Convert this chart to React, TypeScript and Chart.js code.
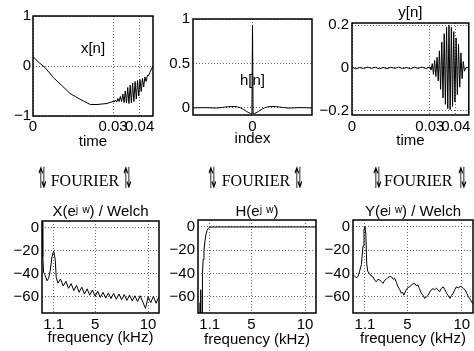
import React, { useEffect, useRef } from "react";
import { Chart, registerables } from "chart.js";
Chart.register(...registerables);

const W = 474;
const H = 351;
const FONT = "'Liberation Sans', Arial, Helvetica, sans-serif";

// ---- x[n] (time signal) ----
const slowTime = [0, 0.002, 0.0045, 0.0076, 0.0108, 0.0139, 0.0158, 0.0189, 0.0215, 0.024, 0.0277];
const slowVal = [0.19, 0.08, -0.03, -0.23, -0.39, -0.55, -0.61, -0.7, -0.77, -0.77, -0.75];
const burstTime = [0.03, 0.03046, 0.03092, 0.03138, 0.03184, 0.0323, 0.03276, 0.03322, 0.03368, 0.03414, 0.0346, 0.03506, 0.03552, 0.03598, 0.03644, 0.0369, 0.03736, 0.03782, 0.03828, 0.03874, 0.0392, 0.03966, 0.04012, 0.04058, 0.04104, 0.0415, 0.04196, 0.04242, 0.04288, 0.04334, 0.0438];
const xBurstVal = [-0.71, -0.72, -0.68, -0.72, -0.65, -0.71, -0.61, -0.71, -0.56, -0.73, -0.5, -0.74, -0.43, -0.75, -0.38, -0.74, -0.34, -0.71, -0.31, -0.66, -0.29, -0.6, -0.27, -0.51, -0.25, -0.42, -0.22, -0.31, -0.19, -0.19, -0.13];
const endTime = [0.045];
const xEndVal = [0.0];

// ---- y[n] (filtered signal) ----
const noiseTime = [0, 0.0015, 0.003, 0.0045, 0.006, 0.0075, 0.009, 0.0105, 0.012, 0.0135, 0.015, 0.0165, 0.018, 0.0195, 0.021, 0.0225, 0.024, 0.0255, 0.027, 0.0285];
const noiseVal = [0.003, -0.004, 0.002, -0.003, 0.004, -0.002, 0.003, -0.004, 0.002, -0.003, 0.003, -0.002, 0.004, -0.003, 0.002, -0.004, 0.003, -0.002, 0.004, -0.003];
const yBurstVal = [0.005, -0.01, 0.02, -0.03, 0.035, -0.04, 0.05, -0.06, 0.08, -0.1, 0.12, -0.14, 0.16, -0.17, 0.19, -0.19, 0.2, -0.195, 0.19, -0.18, 0.17, -0.16, 0.14, -0.125, 0.11, -0.09, 0.07, -0.05, 0.03, -0.015, 0.0];
const yEndVal = [0.002];

// ---- h[n] (impulse response) ----
const hIndex = [-100, -80, -60, -50, -40, -30, -25, -20, -15, -10, -6, -3, -1, 0, 1, 3, 6, 10, 15, 20, 25, 30, 40, 50, 60, 80, 100];
const hVal = [0.0, 0.003, -0.002, 0.006, 0.014, 0.016, 0.011, 0.0, -0.018, -0.04, -0.055, -0.064, -0.067, 0.93, -0.067, -0.064, -0.055, -0.04, -0.018, 0.0, 0.011, 0.016, 0.014, 0.006, -0.002, 0.003, 0.0];

// ---- X(e^jw) Welch spectrum (dB vs kHz) ----
const XFreq = [0, 0.06, 0.09, 0.15, 0.31, 0.47, 0.62, 0.78, 0.94, 1.1, 1.25, 1.34, 1.5, 1.75, 2.0, 2.25, 2.5, 2.75, 3.0, 3.25, 3.5, 3.75, 4.0, 4.25, 4.5, 4.75, 5.0, 5.25, 5.5, 5.75, 6.0, 6.25, 6.5, 6.75, 7.0, 7.25, 7.5, 7.75, 8.0, 8.25, 8.5, 8.75, 9.0, 9.25, 9.5, 9.75, 10.0, 10.25, 10.5, 10.75, 11.0];
const XVal = [5, -8, -25, -38.6, -41.5, -46, -44, -37, -25, -20, -28, -43, -48, -44.5, -50.5, -46.5, -52.5, -48.5, -54.5, -50, -56, -51.5, -57.5, -53, -58.5, -54, -59.5, -55, -60.5, -56, -61, -56.5, -61.5, -57, -62, -57.5, -62.5, -58, -63, -58.5, -63.5, -59, -64, -59, -64.5, -70, -60, -65, -59.5, -65.5, -60];

// ---- H(e^jw) filter response ----
const HFreq = [0, 0.15, 0.2, 0.24, 0.28, 0.38, 0.4, 0.43, 0.48, 0.56, 0.65, 0.75, 0.85, 0.95, 1.05, 1.2, 1.5, 11.025];
const HVal = [-80, -80, -65, -54, -80, -75, -60, -40, -28, -20, -12, -6, -3, -1.2, -0.5, -0.1, 0, 0];

// ---- Y(e^jw) Welch spectrum ----
const YFreq = [0, 0.15, 0.31, 0.46, 0.61, 0.77, 0.92, 1.01, 1.1, 1.18, 1.26, 1.35, 1.5, 1.65, 1.84, 2.0, 2.15, 2.3, 2.45, 2.6, 2.76, 2.9, 3.05, 3.2, 3.37, 3.55, 3.7, 3.83, 4.0, 4.14, 4.3, 4.45, 4.55, 4.67, 4.8, 4.9, 5.05, 5.2, 5.35, 5.5, 5.67, 5.8, 5.97, 6.1, 6.28, 6.45, 6.59, 6.75, 6.9, 7.05, 7.2, 7.35, 7.5, 7.67, 7.8, 7.97, 8.1, 8.28, 8.45, 8.6, 8.75, 8.9, 9.05, 9.2, 9.35, 9.5, 9.7, 9.85, 9.97, 10.15, 10.3, 10.45, 10.6, 10.75, 10.9, 11.02];
const YVal = [-41, -42.6, -43.5, -42.6, -38, -32.4, -16.5, -2, 0.5, -6, -31, -38, -40, -42, -43, -46, -47, -45, -45.5, -47, -48.5, -46, -45, -43.5, -42.6, -43, -45, -44, -48, -51.5, -54, -57, -56, -58.7, -56, -54, -52, -51.5, -50, -49, -48.5, -50.5, -50, -53, -57, -59, -61.5, -60, -58.7, -56, -54, -53, -54, -52.7, -54, -55.7, -53, -51.5, -54, -57, -59, -61.5, -59, -57, -54, -51.5, -52.5, -51, -51.5, -53, -54, -57, -60, -62, -64.5, -66];

// ---- ticks ----
const timeTicks = [0, 0.03, 0.04];
const timeLabels = ["0", "0.03", "0.04"];
const xnTicks = [-1, 0, 1];
const xnLabels = ["\u22121", "0", "1"];
const hnTicks = [0, 0.5, 1];
const hnLabels = ["0", "0.5", "1"];
const indexTicks = [0];
const indexLabels = ["0"];
const ynTicks = [-0.2, 0, 0.2];
const ynLabels = ["\u22120.2", "0", "0.2"];
const freqTicks = [1.1, 5, 10];
const freqLabels = ["1.1", "5", "10"];
const dbTicks = [-60, -40, -20, 0];
const dbLabels = ["\u221260", "\u221240", "\u221220", "0"];

type Panel = {
  xs: number[]; ys: number[];
  xMin: number; xMax: number; yMin: number; yMax: number;
  xTicks: number[]; xLabels: string[]; yTicks: number[]; yLabels: string[];
  xTitle: string; title?: string; titleTop?: number; inner?: string; innerY?: number;
  box: { l: number; t: number; r: number; b: number };
  yw: number; xh: number; xPad: number; yPad: number;
};

const panels: Panel[] = [
  {
    xs: slowTime.concat(burstTime, endTime), ys: slowVal.concat(xBurstVal, xEndVal),
    xMin: 0, xMax: 0.045, yMin: -1, yMax: 1,
    xTicks: timeTicks, xLabels: timeLabels, yTicks: xnTicks, yLabels: xnLabels,
    xTitle: "time", inner: "x[n]", innerY: 49,
    box: { l: 33, t: 16, r: 153, b: 116 }, yw: 30, xh: 33, xPad: 2, yPad: 2,
  },
  {
    xs: hIndex, ys: hVal,
    xMin: -100, xMax: 100, yMin: -0.08, yMax: 1.0,
    xTicks: indexTicks, xLabels: indexLabels, yTicks: hnTicks, yLabels: hnLabels,
    xTitle: "index", inner: "h[n]", innerY: 81,
    box: { l: 193, t: 19, r: 312, b: 115 }, yw: 30, xh: 31, xPad: 3, yPad: 3,
  },
  {
    xs: noiseTime.concat(burstTime, endTime), ys: noiseVal.concat(yBurstVal, yEndVal),
    xMin: 0, xMax: 0.045, yMin: -0.22, yMax: 0.21,
    xTicks: timeTicks, xLabels: timeLabels, yTicks: ynTicks, yLabels: ynLabels,
    xTitle: "time", title: "y[n]", titleTop: 5,
    box: { l: 352, t: 23, r: 472, b: 115 }, yw: 40, xh: 33.5, xPad: 3, yPad: 3,
  },
  {
    xs: XFreq, ys: XVal,
    xMin: 0, xMax: 11.025, yMin: -74, yMax: 6,
    xTicks: freqTicks, xLabels: freqLabels, yTicks: dbTicks, yLabels: dbLabels,
    xTitle: "frequency (kHz)", title: "X(e\u02B2 \u02B7) / Welch", titleTop: 204,
    box: { l: 42, t: 221, r: 159, b: 313 }, yw: 35, xh: 32, xPad: 3, yPad: 3,
  },
  {
    xs: HFreq, ys: HVal,
    xMin: 0, xMax: 11.025, yMin: -74, yMax: 6,
    xTicks: freqTicks, xLabels: freqLabels, yTicks: dbTicks, yLabels: dbLabels,
    xTitle: "frequency (kHz)", title: "H(e\u02B2 \u02B7)", titleTop: 204,
    box: { l: 198, t: 220, r: 316, b: 313 }, yw: 35, xh: 34, xPad: 3, yPad: 3,
  },
  {
    xs: YFreq, ys: YVal,
    xMin: 0, xMax: 11.025, yMin: -74, yMax: 6,
    xTicks: freqTicks, xLabels: freqLabels, yTicks: dbTicks, yLabels: dbLabels,
    xTitle: "frequency (kHz)", title: "Y(e\u02B2 \u02B7) / Welch", titleTop: 204,
    box: { l: 353, t: 220, r: 473, b: 313 }, yw: 35, xh: 33, xPad: 3, yPad: 3,
  },
];

const frameBox = {
  id: "frameBox",
  afterDraw(chart: any, _args: any, opts: any) {
    const { ctx, chartArea: a } = chart;
    ctx.save();
    ctx.strokeStyle = "#000";
    ctx.lineWidth = 1.5;
    ctx.strokeRect(a.left, a.top, a.right - a.left, a.bottom - a.top);
    if (opts && opts.inner) {
      ctx.fillStyle = "#000";
      ctx.font = `15px ${FONT}`;
      ctx.textAlign = "center";
      ctx.textBaseline = "middle";
      ctx.fillText(opts.inner, (a.left + a.right) / 2, opts.innerY);
    }
    ctx.restore();
  },
};

function makeChart(canvas: HTMLCanvasElement, p: Panel) {
  const pts = p.xs.map((x, i) => ({ x, y: p.ys[i] }));
  const hasTitle = !!p.title;
  const padTop = hasTitle ? (p.titleTop as number) : p.box.t;
  const tickFont = { family: FONT, size: 15, lineHeight: 1.2 };
  const gridOpts = { color: "rgba(0,0,0,0.6)", drawTicks: false, lineWidth: 1 };
  return new Chart(canvas, {
    type: "line",
    data: {
      datasets: [
        { data: pts, borderColor: "#000", borderWidth: 1, pointRadius: 0, tension: 0, fill: false },
      ],
    },
    options: {
      animation: false,
      responsive: false,
      devicePixelRatio: 1,
      events: [],
      layout: {
        autoPadding: false,
        padding: { left: p.box.l - p.yw, right: W - p.box.r, top: padTop, bottom: H - p.box.b - p.xh },
      },
      plugins: {
        legend: { display: false },
        tooltip: { enabled: false },
        title: {
          display: hasTitle,
          text: p.title || "",
          fullSize: false,
          color: "#000",
          font: { family: FONT, size: 15, lineHeight: 1, weight: "normal" },
          padding: { top: 0, bottom: hasTitle ? p.box.t - padTop - 15 : 0 },
        },
        frameBox: { inner: p.inner, innerY: p.innerY },
      } as any,
      scales: {
        x: {
          type: "linear",
          min: p.xMin,
          max: p.xMax,
          afterBuildTicks: (s: any) => { s.ticks = p.xTicks.map((v) => ({ value: v })); },
          afterFit: (s: any) => { s.height = p.xh; },
          ticks: {
            autoSkip: false, maxRotation: 0, minRotation: 0, padding: p.xPad, color: "#000", font: tickFont,
            callback: (_v: any, i: number) => p.xLabels[i],
          },
          grid: gridOpts,
          border: { display: false, dash: [1, 2] },
          title: { display: true, text: p.xTitle, color: "#000", font: { family: FONT, size: 15, lineHeight: 1 }, padding: 0 },
        },
        y: {
          type: "linear",
          min: p.yMin,
          max: p.yMax,
          afterBuildTicks: (s: any) => { s.ticks = p.yTicks.map((v) => ({ value: v })); },
          afterFit: (s: any) => { s.width = p.yw; },
          ticks: {
            autoSkip: false, padding: p.yPad, color: "#000", font: tickFont,
            callback: (_v: any, i: number) => p.yLabels[i],
          },
          grid: gridOpts,
          border: { display: false, dash: [1, 2] },
        },
      },
    } as any,
    plugins: [frameBox],
  });
}

const fourierGroups = [
  { a: 37.5, t: 50.7, b: 122.5 },
  { a: 208, t: 221.7, b: 294 },
  { a: 372.5, t: 384, b: 458 },
];

const arrowStyle = (left: number): React.CSSProperties => ({
  position: "absolute",
  left,
  top: 164,
  fontFamily: "'DejaVu Sans', sans-serif",
  fontSize: 29,
  lineHeight: "29px",
  transform: "scaleX(0.36)",
  transformOrigin: "left top",
  color: "#000",
  whiteSpace: "nowrap",
});

export default function App() {
  const refs = useRef<(HTMLCanvasElement | null)[]>([]);
  useEffect(() => {
    const charts = panels.map((p, i) => makeChart(refs.current[i] as HTMLCanvasElement, p));
    return () => charts.forEach((c) => c.destroy());
  }, []);
  return (
    <div style={{ position: "fixed", left: 0, top: 0, width: W, height: H, background: "#fff", overflow: "hidden" }}>
      {panels.map((_, i) => (
        <canvas
          key={i}
          ref={(el) => { refs.current[i] = el; }}
          width={W}
          height={H}
          style={{ position: "absolute", left: 0, top: 0, width: W, height: H }}
        />
      ))}
      {fourierGroups.map((g, i) => (
        <React.Fragment key={i}>
          <span style={arrowStyle(g.a)}>⇅</span>
          <span
            style={{
              position: "absolute", left: g.t, top: 173, fontFamily: "'Liberation Serif', serif",
              fontSize: 16, lineHeight: "16px", color: "#000", whiteSpace: "nowrap",
            }}
          >
            FOURIER
          </span>
          <span style={arrowStyle(g.b)}>⇅</span>
        </React.Fragment>
      ))}
    </div>
  );
}
